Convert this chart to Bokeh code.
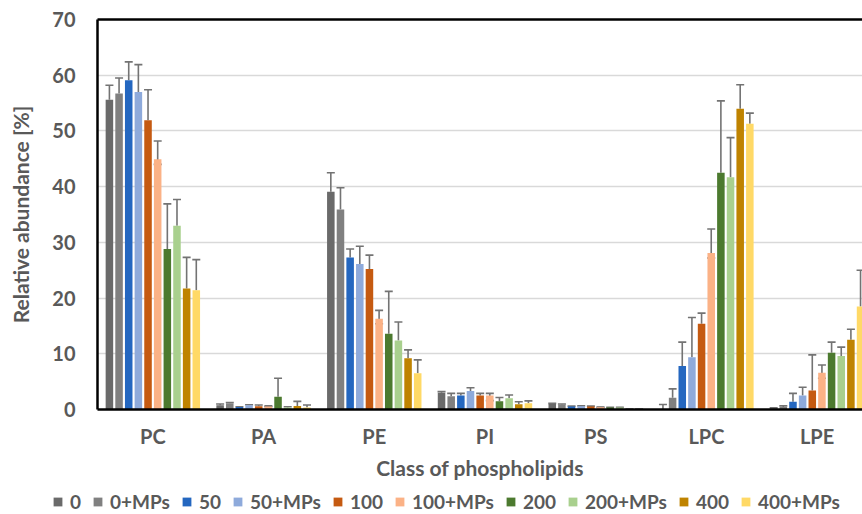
from bokeh.plotting import figure
from bokeh.models import (ColumnDataSource, Range1d, FixedTicker, LinearAxis, Legend,
                          LegendItem, Whisker, TeeHead)
from bokeh.layouts import column
from bokeh.embed import file_html
from bokeh.resources import INLINE

categories = ["PC", "PA", "PE", "PI", "PS", "LPC", "LPE"]
series_names = ["0", "0+MPs", "50", "50+MPs", "100", "100+MPs", "200", "200+MPs", "400", "400+MPs"]
series_colors = ["#6a6a6a", "#808080", "#2467c0", "#8eaadb", "#c55a11", "#fbb286",
                 "#4c7a2f", "#a9d08e", "#bf8300", "#ffd966"]

v_0 = [55.6, 0.75, 39.1, 3.0, 1.0, 0.1, 0.2]
v_0mp = [56.7, 1.1, 35.9, 2.4, 0.9, 2.1, 0.45]
v_50 = [59.1, 0.45, 27.3, 2.5, 0.55, 7.8, 1.4]
v_50mp = [57.0, 0.75, 26.1, 3.3, 0.6, 9.4, 2.5]
v_100 = [51.9, 0.6, 25.2, 2.5, 0.55, 15.4, 3.4]
v_100mp = [44.9, 0.55, 16.3, 2.5, 0.4, 28.1, 6.6]
v_200 = [28.8, 2.3, 13.6, 1.5, 0.35, 42.5, 10.2]
v_200mp = [33.0, 0.35, 12.4, 2.0, 0.35, 41.7, 9.6]
v_400 = [21.7, 0.65, 9.2, 0.95, 0.05, 54.0, 12.5]
v_400mp = [21.4, 0.35, 6.5, 1.1, 0.05, 51.3, 18.5]

e_0 = [2.6, 0.25, 3.4, 0.2, 0.1, 0.8, 0.1]
e_0mp = [2.8, 0.15, 3.9, 0.5, 0.1, 1.6, 0.2]
e_50 = [3.3, 0.05, 1.5, 0.4, 0.05, 4.3, 1.5]
e_50mp = [4.9, 0.1, 3.2, 0.6, 0.05, 7.1, 1.5]
e_100 = [5.5, 0.2, 2.5, 0.4, 0.05, 1.9, 6.4]
e_100mp = [3.3, 0.1, 1.5, 0.4, 0.05, 4.3, 1.4]
e_100mp_low = [0.9, 0.05, 0.9, 0.9, 0.05, 0.9, 1.0]
e_200 = [8.1, 3.3, 7.6, 0.65, 0.05, 12.9, 1.9]
e_200mp = [4.7, 0.15, 3.3, 0.6, 0.05, 7.1, 1.6]
e_400 = [5.6, 0.8, 1.5, 0.45, 0.05, 4.3, 1.9]
e_400mp = [5.5, 0.45, 2.4, 0.45, 0.05, 1.9, 6.5]

values = [v_0, v_0mp, v_50, v_50mp, v_100, v_100mp, v_200, v_200mp, v_400, v_400mp]
errors = [e_0, e_0mp, e_50, e_50mp, e_100, e_100mp, e_200, e_200mp, e_400, e_400mp]
lower_errors = {5: e_100mp_low}

TXT = "#595959"
FONT = "Lato"

p = figure(width=862, height=484, output_backend="svg", toolbar_location=None,
           x_range=Range1d(-0.5, 6.41), y_range=Range1d(0, 70),
           min_border_left=97, min_border_right=0, min_border_top=19, min_border_bottom=75,
           outline_line_color=None, background_fill_color="white", border_fill_color="white")

step = 0.0872
bw = 0.068
for i, (name, col) in enumerate(zip(series_names, series_colors)):
    xs = [k + (i - 4.5) * step for k in range(len(categories))]
    vals = values[i]
    ups = [v + e for v, e in zip(vals, errors[i])]
    lows = [v - e for v, e in zip(vals, lower_errors[i])] if i in lower_errors else vals
    src = ColumnDataSource(dict(x=xs, top=vals, upper=ups, lower=lows))
    p.vbar(x="x", top="top", width=bw, source=src, fill_color=col, line_color=None)
    w = Whisker(base="x", upper="upper", lower="lower", source=src, dimension="height",
                line_color="#737373", line_width=1.6,
                upper_head=TeeHead(size=8, line_color="#737373", line_width=1.6),
                lower_head=(TeeHead(size=8, line_color="#737373", line_width=1.6) if i in lower_errors else None))
    p.add_layout(w)

# grid
p.xgrid.visible = False
p.ygrid.grid_line_color = "#d9d9d9"
p.ygrid.grid_line_width = 1.6
p.yaxis.ticker = FixedTicker(ticks=[0, 10, 20, 30, 40, 50, 60, 70])
p.ygrid.ticker = FixedTicker(ticks=[10, 20, 30, 40, 50, 60])

# axes
for ax in (p.xaxis[0], p.yaxis[0]):
    ax.axis_line_color = "black"
    ax.axis_line_width = 2.5
    ax.major_tick_line_color = None
    ax.minor_tick_line_color = None
    ax.major_tick_out = 0
    ax.major_tick_in = 0
    ax.major_label_text_color = TXT
    ax.major_label_text_font = FONT
    ax.major_label_text_font_style = "bold"
    ax.major_label_text_font_size = "20px"
    ax.axis_label_text_color = TXT
    ax.axis_label_text_font = FONT
    ax.axis_label_text_font_style = "bold"
    ax.axis_label_text_font_size = "21px"

p.xaxis.ticker = FixedTicker(ticks=list(range(len(categories))))
p.xaxis.major_label_overrides = {k: c for k, c in enumerate(categories)}
p.xaxis.axis_label = "Class of phospholipids"
p.xaxis.major_label_standoff = 14
p.xaxis.axis_label_standoff = 4
p.yaxis.axis_label = "Relative abundance [%]"
p.yaxis.major_label_standoff = 22
p.yaxis.axis_label_standoff = 16

top_axis = LinearAxis(ticker=FixedTicker(ticks=[]), axis_line_color="black", axis_line_width=2.5,
                      major_tick_line_color=None, minor_tick_line_color=None,
                      major_label_text_font_size="0px", major_tick_out=0, major_tick_in=0)
p.add_layout(top_axis, "above")

# legend strip (separate figure so it may span the full width)
lf = figure(width=862, height=30, output_backend="svg", toolbar_location=None,
            x_range=Range1d(0, 1), y_range=Range1d(0, 1),
            x_axis_location=None, y_axis_location=None,
            min_border=0, outline_line_color=None, border_fill_color="white")
lf.grid.visible = False
items = []
for name, col in zip(series_names, series_colors):
    # zero-height bar: only provides the legend swatch
    r = lf.vbar(x=[0.5], top=[0], bottom=[0], width=0.01, fill_color=col, line_color=None)
    items.append(LegendItem(label=name, renderers=[r]))
legend = Legend(items=items, orientation="horizontal", location=(52, 1),
                label_text_font=FONT, label_text_font_style="bold", label_text_font_size="19px",
                label_text_color=TXT, glyph_width=11, glyph_height=11, label_standoff=7,
                label_width=0, spacing=11, padding=0, margin=0,
                border_line_color=None, background_fill_alpha=0)
lf.add_layout(legend, "center")

layout = column(column(p), column(lf), spacing=0)
open("out.html", "w").write(file_html(layout, INLINE))
